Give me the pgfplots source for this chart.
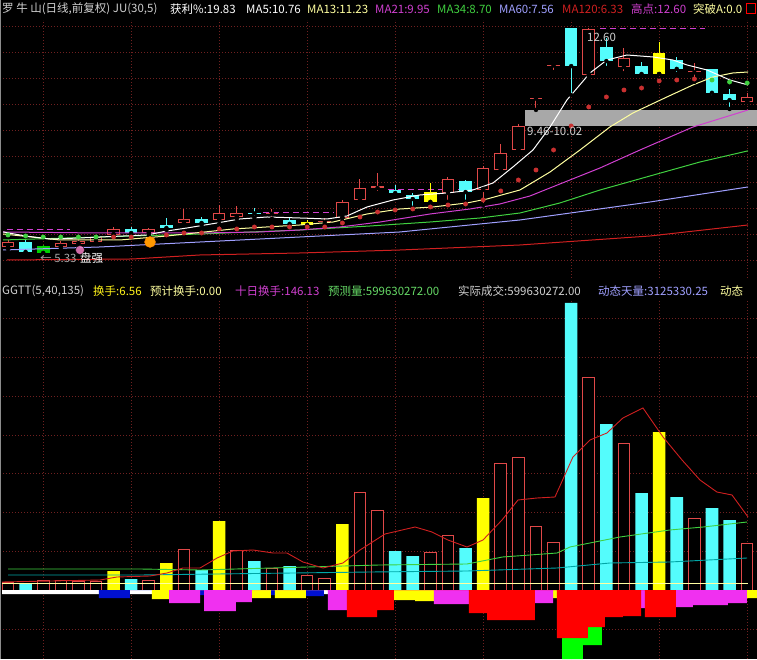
\documentclass[border=0pt]{standalone}
\usepackage{pgfplots}
\pgfplotsset{compat=1.18}
\usepackage{pgfplotstable}
\usepackage{fontspec}
\newfontfamily\cjk{Noto Sans CJK SC}

\definecolor{candlered}{HTML}{E04848}
\definecolor{cyanc}{HTML}{54FCFC}
\definecolor{yellowc}{HTML}{FFFF00}
\definecolor{greenc}{HTML}{00D000}
\definecolor{magc}{HTML}{F030F0}
\definecolor{bluec}{HTML}{0010D0}
\definecolor{gridred}{HTML}{702020}
\definecolor{ma13}{HTML}{FFFFA0}
\definecolor{ma21}{HTML}{D040D0}
\definecolor{ma34}{HTML}{40D040}
\definecolor{ma60}{HTML}{A0A0FF}
\definecolor{ma120}{HTML}{D02020}
\definecolor{dotred}{HTML}{C83030}
\definecolor{txtgray}{HTML}{D0D0D0}

% candles: i open high low close (price)
\pgfplotstableread{
i  o     h     l     c
0  5.65  5.87  5.58  5.81
3  5.65  5.84  5.58  5.78
4  5.74  5.97  5.68  5.84
5  5.81  6.03  5.74  5.97
6  6.03  6.28  5.97  6.22
8  6.09  6.25  6.03  6.22
10 6.41  6.85  6.35  6.54
12 6.51  6.98  6.38  6.73
13 6.60  6.95  6.54  6.73
19 6.57  7.14  6.47  7.08
20 7.14  7.81  7.05  7.52
25 7.36  7.87  7.08  7.81
27 7.46  8.22  6.98  8.16
28 8.09  8.92  8.00  8.63
29 8.73  9.55  8.66  9.49
33 11.11 12.60 11.05 12.57
35 11.36 11.97 11.17 11.65
42 10.25 10.54 10.25 10.41
}\uphollow
\pgfplotstableread{
i  o     h     l     c
15 6.70  6.85  6.54  6.73
18 6.43  6.57  6.31  6.46
21 7.52  8.00  7.36  7.58
30 10.36 10.41 10.00 10.39
31 11.41 11.46 11.20 11.44
39 11.19 11.49 10.89 11.22
}\updoji
\pgfplotstableread{
i  o     h     l     c
1  5.81  5.87  5.43  5.49
7  6.22  6.28  6.03  6.09
9  6.35  6.57  6.19  6.25
11 6.54  6.60  6.35  6.41
14 6.74  6.89  6.57  6.71
16 6.51  6.60  6.31  6.38
22 7.46  7.62  7.30  7.36
23 7.30  7.36  6.89  7.17
26 7.74  7.78  7.08  7.39
32 12.60 12.60 10.47 11.39
34 12.00 12.28 11.33 11.55
36 11.39 11.52 11.08 11.14
38 11.58 11.68 11.14 11.30
40 11.30 11.30 10.41 10.54
41 10.51 10.66 10.03 10.31
}\down
\pgfplotstableread{
i  o     h     l     c
17 6.44  6.51  6.28  6.35
24 7.39  7.68  7.05  7.08
37 11.81 12.16 11.14 11.14
}\yel
\pgfplotstableread{
i  o     h     l     c
2  5.68  5.71  5.43  5.46
}\grn

\pgfplotsset{
  wick/.style={only marks, mark=none, forget plot,
    error bars/.cd, y dir=plus, y explicit, error mark=none,
    error bar style={draw=#1, line width=1pt}},
  body/.style 2 args={only marks, mark=none, forget plot,
    error bars/.cd, y dir=plus, y explicit, error mark=none,
    error bar style={draw=#1, line width=#2}},
  pane/.style={scale only axis, width=757pt, xmin=-0.455, xmax=42.56,
    axis line style={draw=none}, tick style={draw=none},
    xticklabels={}, yticklabels={}, xtick={2,7,...,42},
    grid=major, major grid style={gridred, dash pattern=on 1pt off 2pt, line width=0.8pt}},
}

\begin{document}
\begin{tikzpicture}[x=1pt,y=1pt]
\useasboundingbox (0,0) rectangle (757,659);
\fill[black] (0,0) rectangle (757,659);

% ---------------- upper pane: price ----------------
\begin{axis}[pane, at={(0pt,381pt)}, anchor=south west, height=258pt,
  ymin=4.663, ymax=12.854,
  ytick={5.235,6.060,6.886,7.711,8.537,9.362,10.187,11.013,11.838,12.663}]

% gray band 9.46-10.02
\addplot[fill=white!66!black, draw=none] coordinates {(29.37,9.49) (42.6,9.49) (42.6,10.0) (29.37,10.0)} -- cycle;

% dashed high lines
\addplot[ma21, line width=1pt, dash pattern=on 6pt off 4pt] coordinates {(-0.06,6.19) (3.52,6.19)};
\addplot[ma21, line width=1pt, dash pattern=on 6pt off 4pt] coordinates {(14.49,6.73) (18.47,6.73)};
\addplot[ma21, line width=1pt, dash pattern=on 6pt off 4pt] coordinates {(21.59,7.47) (27.22,7.47)};
\addplot[ma21, line width=1pt, dash pattern=on 6pt off 4pt] coordinates {(33.64,12.57) (39.6,12.57)};

% wicks
\addplot[wick=candlered] table[x=i, y=l, y error plus expr=\thisrow{h}-\thisrow{l}] {\uphollow};
\addplot[wick=candlered] table[x=i, y=l, y error plus expr=\thisrow{h}-\thisrow{l}] {\updoji};
\addplot[wick=cyanc] table[x=i, y=l, y error plus expr=\thisrow{h}-\thisrow{l}] {\down};
\addplot[wick=yellowc] table[x=i, y=l, y error plus expr=\thisrow{h}-\thisrow{l}] {\yel};
\addplot[wick=greenc] table[x=i, y=l, y error plus expr=\thisrow{h}-\thisrow{l}] {\grn};
% bodies
\addplot[body={candlered}{12.6pt}] table[x=i, y=o, y error plus expr=\thisrow{c}-\thisrow{o}] {\uphollow};
\addplot[body={black}{10.6pt}] table[x=i, y expr=\thisrow{o}+0.032, y error plus expr=\thisrow{c}-\thisrow{o}-0.064] {\uphollow};
\addplot[body={candlered}{12.6pt}] table[x=i, y=o, y error plus expr=\thisrow{c}-\thisrow{o}] {\updoji};
\addplot[body={cyanc}{12.6pt}] table[x=i, y=c, y error plus expr=\thisrow{o}-\thisrow{c}] {\down};
\addplot[body={yellowc}{12.6pt}] table[x=i, y=c, y error plus expr=\thisrow{o}-\thisrow{c}] {\yel};
\addplot[body={greenc}{12.6pt}] table[x=i, y=c, y error plus expr=\thisrow{o}-\thisrow{c}] {\grn};

% moving averages
\addplot[ma120, line width=1pt] coordinates {(-0.06,5.235) (7.10,5.267) (10.91,5.394) (16.59,5.457) (22.27,5.552) (29.09,5.711) (36.48,5.997) (42.05,6.346)};
\addplot[ma60, line width=1pt] coordinates {(-0.28,5.552) (5.23,5.648) (10.91,5.806) (16.59,5.965) (22.27,6.124) (29.09,6.505) (36.48,7.076) (42.05,7.553)};
\addplot[ma34, line width=1pt] coordinates {(-0.28,5.870) (5.23,5.965) (10.91,6.060) (16.59,6.187) (20.57,6.314) (23.98,6.441) (26.82,6.568) (29.09,6.727) (31.36,7.045) (33.64,7.457) (36.48,7.902) (39.32,8.346) (42.05,8.70)};
\addplot[ma21, line width=1pt] coordinates {(-0.28,6.124) (5.23,6.092) (10.91,6.092) (14.32,6.124) (16.59,6.187) (18.86,6.283) (21.14,6.441) (23.98,6.695) (26.25,6.854) (27.95,7.013) (29.66,7.267) (31.36,7.648) (33.64,8.156) (35.91,8.727) (38.92,9.457) (42.05,9.997)};
\addplot[ma13, line width=1pt] coordinates {(-0.28,6.060) (2.95,5.870) (6.36,5.870) (9.03,5.997) (12.78,6.219) (16.59,6.346) (18.47,6.441) (20.40,6.695) (22.27,6.854) (24.15,6.918) (26.08,7.045) (27.22,7.172) (29.09,7.457) (30.80,8.029) (32.50,8.727) (34.20,9.457) (35.51,9.902) (37.44,10.410) (38.92,10.791) (40.06,11.045) (41.19,11.172) (42.05,11.203)};
\addplot[white, line width=1pt] coordinates {(-0.28,6.124) (0.99,5.997) (2.39,5.900) (4.09,5.933) (5.23,5.965) (7.90,6.029) (9.03,6.156) (10.17,6.251) (11.88,6.410) (13.18,6.537) (14.72,6.600) (16.59,6.568) (18.13,6.537) (19.26,6.632) (20.40,6.918) (21.88,7.140) (23.41,7.299) (24.94,7.362) (26.42,7.457) (27.56,7.680) (28.69,8.187) (29.83,8.727) (30.80,9.457) (31.76,10.314) (33.07,11.172) (34.03,11.584) (35.17,11.743) (36.65,11.680) (37.78,11.584) (38.58,11.426) (39.72,11.267) (41.02,10.949) (42.05,10.791)};

% signal dots
\addplot[only marks, mark=*, mark size=2.2pt, mark options={fill=dotred, draw=dotred}] coordinates {
(6,5.965) (7,5.965) (9,6.029) (10,6.092) (11,6.092) (12,6.219) (13,6.219) (14,6.283) (15,6.283) (16,6.283) (17,6.283) (18,6.283) (19,6.410) (20,6.600) (21,6.759) (22,6.822) (23,6.854) (24,6.918) (25,6.981) (26,7.013) (27,7.140) (28,7.426) (29,7.775) (30,8.092) (31,8.727) (32,9.489) (33,10.092) (34,10.410) (35,10.632) (36,10.695) (37,10.918) (38,10.949) (39,10.981)};
\addplot[only marks, mark=*, mark size=2.2pt, mark options={fill=ma34, draw=ma34}] coordinates {
(0,6.029) (1,5.997) (2,5.965) (3,5.965) (4,5.965) (5,5.965) (40,10.949) (41,10.886) (42,10.854)};
\addplot[only marks, mark=*, mark size=5.5pt, mark options={fill=orange!80!yellow, draw=orange}] coordinates {(8.07,5.806)};
\addplot[only marks, mark=*, mark size=4.5pt, mark options={fill=magenta!50!white, draw=none, opacity=0.85}] coordinates {(4.09,5.552)};
\end{axis}

% ---------------- lower pane: volume ----------------
\begin{axis}[pane, at={(0pt,0pt)}, anchor=south west, height=359pt,
  ymin=-69, ymax=290,
  ytick={-39,39,78,117,155,194,233,272}]

\addplot[ybar, bar width=11.6pt, bar shift=0pt, draw=candlered, line width=1pt, fill=black] coordinates {
(0,8) (2,10) (3,10) (4,9) (5,9) (8,10) (10,41) (13,40) (15,22) (17,15) (18,12) (20,98) (21,80) (24,38) (25,55) (28,127) (29,133) (30,64) (31,48) (33,212) (35,147) (39,72) (42,47)};
\addplot[ybar, bar width=12.6pt, bar shift=0pt, draw=none, fill=cyanc] coordinates {
(1,7) (7,11) (11,20) (14,29) (16,24) (22,39) (23,34) (26,42) (32,287) (34,166) (36,97) (38,93) (40,82) (41,70)};
\addplot[ybar, bar width=12.6pt, bar shift=0pt, draw=none, fill=yellowc] coordinates {
(6,19) (9,27) (12,69) (19,66) (27,92) (37,158)};

% lower blocks
\addplot[ybar interval, draw=none, fill=white] coordinates {(-0.34,-4) (5.17,0) (6.93,-4) (8.18,0) (17.95,-4) (18.18,0)};
\addplot[ybar interval, draw=none, fill=bluec] coordinates {(5.17,-8) (6.93,0) (10.91,-5) (11.14,0) (14.94,-5) (15.17,0) (16.93,-6) (17.95,0)};
\addplot[ybar interval, draw=none, fill=yellowc] coordinates {(8.18,-9) (9.15,0) (13.86,-8) (14.94,0) (15.17,-8) (16.93,0) (21.93,-10) (23.13,-11) (24.20,0) (30.97,-8) (31.19,0) (41.99,-8) (42.6,0)};
\addplot[ybar interval, draw=none, fill=magc] coordinates {(9.15,-13) (10.91,0) (11.14,-21) (12.95,-12) (13.86,0) (18.18,-20) (19.26,0) (24.20,-14) (26.19,0) (29.94,-13) (30.97,0) (35.97,-18) (36.19,0) (37.95,-17) (38.92,-15) (40.91,-13) (41.99,0)};
\addplot[ybar interval, draw=none, fill=green] coordinates {(31.48,-69) (32.67,-55) (33.75,0)};
\addplot[ybar interval, draw=none, fill=red] coordinates {(19.26,-27) (20.97,-20) (21.93,0) (26.19,-23) (27.22,-30) (29.94,0) (31.19,-48) (32.95,-37) (33.92,-27) (34.94,-26) (35.97,0) (36.19,-27) (37.95,0)};

% lines
\addplot[ma13, line width=1pt] coordinates {(-0.34,7) (42.05,7)};
\addplot[teal!70!cyan, line width=0.9pt] coordinates {(0,15) (7.5,15) (20.57,18) (26.08,19) (31.2,22) (34.2,27) (37.6,28) (42,32)};
\addplot[ma34, line width=0.9pt] coordinates {(0,21) (7.5,21) (10.91,20) (21.1,25) (26.08,26) (28.1,33) (31.2,37) (31.93,43) (34.77,53) (37.6,60) (39.5,63) (42,68)};
\addplot[ma120, line width=0.9pt] coordinates {(-0.34,8) (5.23,10) (6.19,13) (8.07,14) (9.03,17) (9.94,22) (10.91,22) (11.88,32) (12.78,39) (13.92,40) (15.06,37) (15.85,37) (16.76,28) (17.90,22) (19.03,27) (20.0,40) (21.42,56) (23.13,63) (24.09,58) (25.0,50) (26.08,43) (26.99,50) (28.07,70) (28.98,90) (30.06,92) (31.08,93) (32.10,133) (33.07,150) (34.03,157) (34.94,172) (36.08,182) (37.22,153) (38.30,130) (39.32,110) (40.28,98) (41.14,95) (42.05,73)};
\end{axis}

\draw[white!55!black, line width=1pt] (0.5,0) -- (0.5,659);

% ---------------- titles ----------------
\tikzset{t/.style={anchor=west, inner sep=0pt, font=\cjk\fontsize{11.5}{12}\selectfont}}
\node[t, text=txtgray] at (2,650) {罗 牛 山(日线,前复权) JU(30,5)};
\node[t, text=white] at (170,650) {获利\%:19.83};
\node[t, text=white] at (246,650) {MA5:10.76};
\node[t, text=ma13] at (307,650) {MA13:11.23};
\node[t, text=ma21] at (375,650) {MA21:9.95};
\node[t, text=ma34] at (437,650) {MA34:8.70};
\node[t, text=ma60] at (499,650) {MA60:7.56};
\node[t, text=ma120] at (562,650) {MA120:6.33};
\node[t, text=ma21] at (631,650) {高点:12.60};
\node[t, text=ma13] at (693,650) {突破A:0.0};
\draw[red, line width=1pt] (746,645) rectangle (755,655);

\node[t, text=txtgray] at (2,368) {GGTT(5,40,135)};
\node[t, text=yellow!90!white] at (93,368) {换手:6.56};
\node[t, text=ma13] at (150,368) {预计换手:0.00};
\node[t, text=ma21] at (235,368) {十日换手:146.13};
\node[t, text=ma34!80!white] at (328,368) {预测量:599630272.00};
\node[t, text=txtgray] at (458,368) {实际成交:599630272.00};
\node[t, text=ma60] at (598,368) {动态天量:3125330.25};
\node[t, text=ma13] at (720,368) {动态};

\node[t, text=txtgray] at (587,622) {12.60};
\node[t, text=txtgray] at (527,528) {9.46-10.02};
\node[t, text=white!65!black] at (40,401) {← 5.33};
\node[t, text=white] at (80,401) {盘强};
\end{tikzpicture}
\end{document}
